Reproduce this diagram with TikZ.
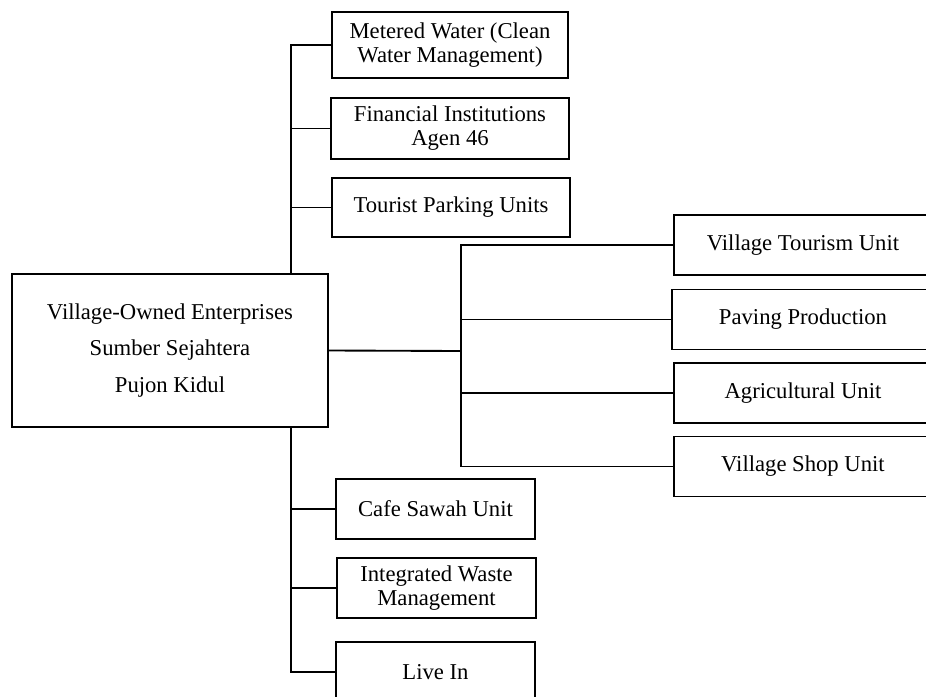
\documentclass[tikz,border=0pt]{standalone}
\usepackage{fontspec}
\setmainfont{Liberation Serif}
\usepackage{tikz}

\begin{document}
\begin{tikzpicture}[x=0.75pt,y=-0.75pt,
  box/.style={draw,line width=1.4pt,fill=white,align=center,inner sep=0pt,font=\fontsize{17}{18}\selectfont},
  unitbox/.style={box,minimum width=193.5pt,minimum height=45pt},
  lowbox/.style={box,minimum width=149.25pt,minimum height=45pt},
  link/.style={line width=1.4pt}]
\useasboundingbox (0,0) rectangle (926,697);
\clip (0,0) rectangle (926,697);
\node[box,minimum width=237pt,minimum height=114.75pt,font=\fontsize{17}{27.4}\selectfont] (main) at (170,350.5) {Village-Owned Enterprises\\Sumber Sejahtera\\Pujon Kidul};
\node[box,minimum width=177pt,minimum height=49.5pt] (water) at (450,45) {Metered Water (Clean\\Water Management)};
\node[box,minimum width=178.5pt,minimum height=45.75pt] (finance) at (450,128.5) {Financial Institutions\\Agen 46};
\node[box,minimum width=178.5pt,minimum height=44.25pt] (parking) at (451,207.5) {Tourist Parking Units};
\node[unitbox] (tourism) at (803,245) {Village Tourism Unit};
\node[unitbox,minimum width=196.5pt] (paving) at (803,319.5) {Paving Production};
\node[unitbox] (agri) at (803,393) {Agricultural Unit};
\node[unitbox] (shop) at (803,466.5) {Village Shop Unit};
\node[lowbox] (cafe) at (435.5,509) {Cafe Sawah Unit};
\node[lowbox] (waste) at (436.5,588) {Integrated Waste\\Management};
\node[lowbox] (livein) at (435.5,672) {Live In};
\coordinate (trunk) at (291,350);
\coordinate (fork) at (461,351);
\draw[link] (water.west) -| (trunk |- main.north);
\draw[link] (finance.west) -- (finance.west -| trunk);
\draw[link] (parking.west) -- (parking.west -| trunk);
\draw[link] (livein.west) -| (trunk |- main.south);
\draw[link] (cafe.west) -- (cafe.west -| trunk);
\draw[link] (waste.west) -- (waste.west -| trunk);
\draw[link] (main.east) -- (fork);
\draw[link] (tourism.west) -| (shop.west -| fork) -- (shop.west);
\draw[link] (paving.west) -- (paving.west -| fork);
\draw[link] (agri.west) -- (agri.west -| fork);
\end{tikzpicture}
\end{document}
